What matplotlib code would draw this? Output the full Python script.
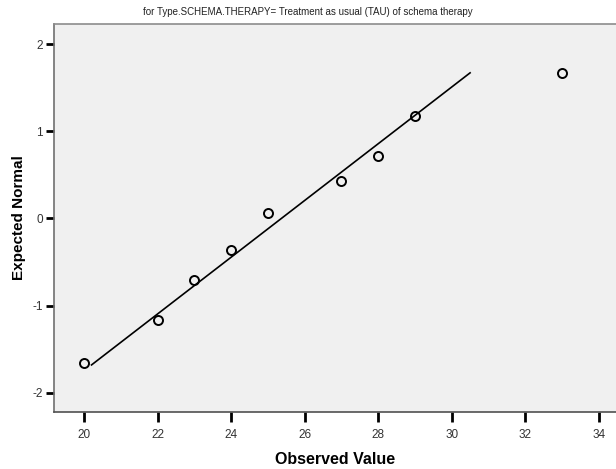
import matplotlib
matplotlib.use("Agg")
import matplotlib.pyplot as plt

# Observed values and expected normal quantiles
observed = [20, 22, 23, 24, 25, 27, 28, 29, 33]
expected = [-1.66, -1.17, -0.71, -0.36, 0.06, 0.43, 0.72, 1.17, 1.67]

# reference line end points (as drawn by SPSS)
lineX = [20.2, 30.5]
lineY = [-1.68, 1.67]

xTicks = [20, 22, 24, 26, 28, 30, 32, 34]
yTicks = [-2, -1, 0, 1, 2]

titleText = "for Type.SCHEMA.THERAPY= Treatment as usual (TAU) of schema therapy"

plt.rcParams['font.family'] = ['Liberation Sans', 'DejaVu Sans']
plt.rcParams['axes.unicode_minus'] = False

fig = plt.figure(figsize=(6.16, 4.69), dpi=100)
ax = fig.add_axes([0.0877, 0.1215, 0.9123, 0.8273])
ax.set_facecolor("#f0f0f0")

ax.plot(lineX, lineY, color="black", linewidth=1.2)
ax.plot(observed, expected, linestyle="none", marker="o", markersize=6.5,
        markerfacecolor="none", markeredgecolor="black", markeredgewidth=1.4)

ax.set_xlim(19.18, 34.47)
ax.set_ylim(-2.22, 2.23)
ax.set_xticks(xTicks)
ax.set_yticks(yTicks)
ax.tick_params(axis="both", direction="out", length=6, width=2, color="black",
               labelsize=8.5, labelcolor="#333333", pad=2)
ax.tick_params(axis="x", pad=5, length=7)

ax.spines["right"].set_visible(False)
ax.spines["top"].set_color("#8c8c8c")
ax.spines["top"].set_linewidth(1.2)
ax.spines["left"].set_color("#707070")
ax.spines["left"].set_linewidth(1.2)
ax.spines["bottom"].set_color("#505050")
ax.spines["bottom"].set_linewidth(1.2)

ax.set_xlabel("Observed Value", fontweight="bold", fontsize=11.5)
ax.xaxis.set_label_coords(0.5, -0.102)
ax.set_ylabel("Expected Normal", fontweight="bold", fontsize=11)
ax.yaxis.set_label_coords(-0.05, 0.5)

fig.text(0.5, 0.975, titleText, ha="center", va="center", fontsize=7,
         color="#222222")

fig.savefig("out.png", dpi=100)
